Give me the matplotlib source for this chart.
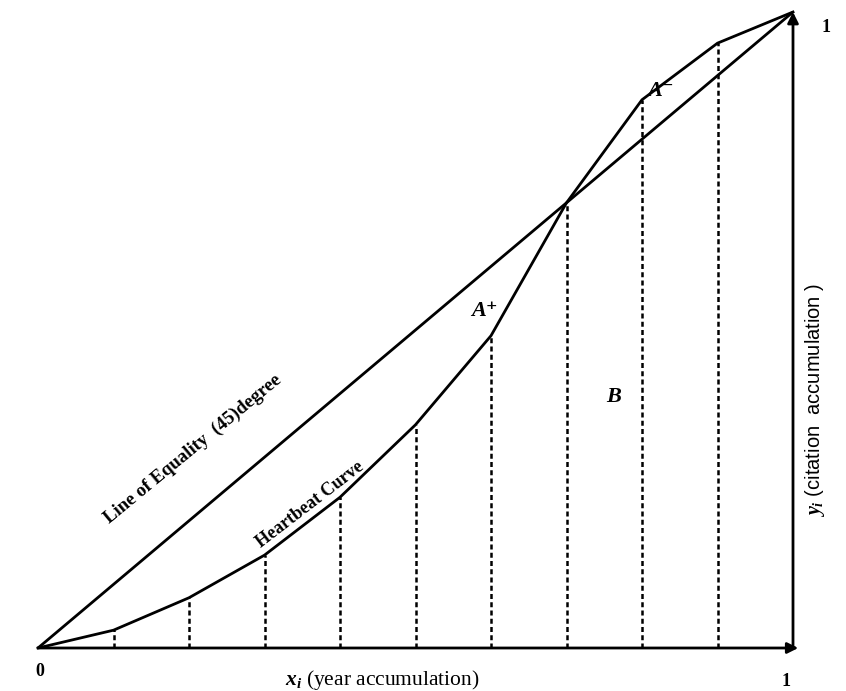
import matplotlib.pyplot as plt

plt.rcParams['font.family'] = ['Liberation Serif', 'DejaVu Serif']
plt.rcParams['mathtext.fontset'] = 'custom'
plt.rcParams['mathtext.it'] = 'Liberation Serif:italic:bold'
plt.rcParams['mathtext.rm'] = 'Liberation Serif'

# cumulative shares
x_share = [0.0, 0.1, 0.2, 0.3, 0.4, 0.5, 0.6, 0.7, 0.8, 0.9, 1.0]
y_share = [0.0, 0.028, 0.079, 0.146, 0.237, 0.351, 0.491, 0.70, 0.862, 0.951, 1.0]
equality = [0.0, 1.0]

fig = plt.figure(figsize=(8.46, 6.91), dpi=100)
ax = fig.add_axes([38/846, 43/691, 755/846, 636/691])
ax.set_xlim(0, 1)
ax.set_ylim(0, 1)
ax.axis('off')

# line of equality and heartbeat curve
ax.plot(equality, equality, color='k', lw=2, clip_on=False, solid_capstyle='butt')
ax.plot(x_share, y_share, color='k', lw=2, clip_on=False)

# dashed drop lines
for xv, yv in zip(x_share[1:-1], y_share[1:-1]):
    ax.plot([xv, xv], [0, yv], color='k', lw=1.8, linestyle=(0, (2, 1.3)))

# axes with arrows
ax.annotate('', xy=(1.007, 0), xytext=(0, 0),
            arrowprops=dict(arrowstyle='-|>', lw=2, color='k', mutation_scale=16,
                            shrinkA=0, shrinkB=0), annotation_clip=False)
ax.annotate('', xy=(1.0, 1.0), xytext=(1.0, 0),
            arrowprops=dict(arrowstyle='-|>', lw=2, color='k', mutation_scale=16,
                            shrinkA=0, shrinkB=0), annotation_clip=False)

# curve labels
ax.text(0.098, 0.19, 'Line of Equality  (45)degree', rotation=39.5, fontsize=13.5,
        fontweight='bold', ha='left', va='bottom', rotation_mode='anchor')
ax.text(0.298, 0.152, 'Heartbeat Curve', rotation=37.5, fontsize=13,
        fontweight='bold', ha='left', va='bottom', rotation_mode='anchor')

# area labels
ax.text(0.592, 0.530, 'A⁺', fontsize=16, fontweight='bold', fontstyle='italic',
        ha='center', va='center')
ax.text(0.825, 0.875, 'A⁻', fontsize=16, fontweight='bold', fontstyle='italic',
        ha='center', va='center')
ax.text(0.762, 0.395, 'B', fontsize=16, fontweight='bold', fontstyle='italic',
        ha='center', va='center')

# tick-like numbers
fig.text(40/846, 1 - 672/691, '0', fontsize=13, fontweight='bold', ha='center', va='center')
fig.text(786/846, 1 - 682/691, '1', fontsize=13, fontweight='bold', ha='center', va='center')
fig.text(826/846, 1 - 28/691, '1', fontsize=13, fontweight='bold', ha='center', va='center')

# axis titles
fig.text(382/846, 1 - 680/691, r'$x_i$ (year accumulation)', fontsize=15.5,
         ha='center', va='center')
fig.text(815/846, 1 - 400/691, r'$y_i$ (citation  accumulation )', fontsize=14.5,
         family='Liberation Sans', rotation=90, ha='center', va='center')

fig.savefig('out.png', dpi=100)
